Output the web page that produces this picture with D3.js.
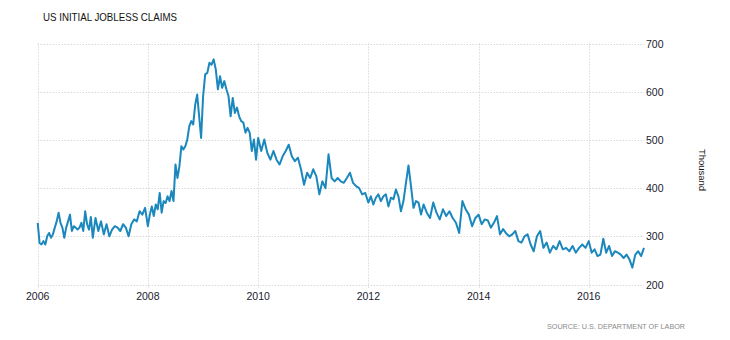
<!DOCTYPE html>
<meta charset="utf-8">
<style>
body { margin: 0; background: #fff; }
text { font-family: "Liberation Sans", Arial, sans-serif; }
.grid line { stroke: #c8c8c8; stroke-dasharray: 1,2; }
</style>
<svg width="730" height="340"></svg>
<script src="https://d3js.org/d3.v7.min.js"></script>
<script>

// weekly claims, thousands (each year's readings spread across that year)
var y2006 = [328,286,283,290,283,300,307,297,304,318,331,349,328,318,297,318,331,345,311,321,318,314,318,328,311,352,325,314,340];
var y2007 = [297,338,311,331,304,325,300,314,321,318,311,325,318,300,325,335,331,352,345,359];
var y2008 = [321,345,362,342,366,356,390,349,373,369,383,373,394,373,449,421,445,487,480,487,501,528,539,532,573,594,549,504];
var y2009 = [590,636,639,660,656,667,646,605,632,608,622,605,591,549,587,556,567,549,539,536,515,525,515,477,501,459];
var y2010 = [504,477,501,473,459,477,459,449,466,477,490,466,456,463,439,407,432,421];
var y2011 = [439,425,387,414,400,470,421,414,421,414,411,421,432,411,404,400,387,390];
var y2012 = [370,383,366,380,387,373,383,387,362,380,377,397,383,352,373,411,447,404,359,373,370,345];
var y2013 = [366,349,338,370,349,335,356,342,352,338,328,307,373,356,345,321,338];
var y2014 = [345,325,335,333,318,328,342,304,315,306,300,304,311,290,287,300,304,283];
var y2015 = [269,300,311,276,287,266,280,273,290,273,276,269,280,266,276,283,276];
var y2016 = [290,266,273,259,262,295,266,280,259,269,266,262,255,262,252,235,262,269,259,276];

var years = [2006,2007,2008,2009,2010,2011,2012,2013,2014,2015,2016];
var yearValues = [y2006,y2007,y2008,y2009,y2010,y2011,y2012,y2013,y2014,y2015,y2016];

var xTicks = [2006,2008,2010,2012,2014,2016];
var yTicks = [200,300,400,500,600,700];

var title = "US INITIAL JOBLESS CLAIMS";
var unit = "Thousand";
var source = "SOURCE:  U.S. DEPARTMENT OF LABOR";

var svg = d3.select("svg");

var plotLeft = 37.7, plotRight = 644, plotTop = 43.5, plotBottom = 284.5;

var x = d3.scaleTime()
    .domain([new Date(2006,0,1), new Date(2017,0,1)])
    .range([plotLeft, plotRight]);
var y = d3.scaleLinear()
    .domain([200,700])
    .range([plotBottom, plotTop]);

// spread each year's readings over the year, last year runs to its end
var data = [];
years.forEach(function(yr, k) {
  var vals = yearValues[k];
  var n = (k == years.length - 1) ? vals.length - 1 : vals.length;
  var t0 = new Date(yr,0,1).getTime(), t1 = new Date(yr+1,0,1).getTime();
  vals.forEach(function(v, i) {
    data.push({date: new Date(t0 + (t1 - t0) * i / n), value: v});
  });
});

// grid
var grid = svg.append("g").attr("class", "grid");
grid.selectAll(".h").data(yTicks).enter().append("line")
    .attr("x1", plotLeft).attr("x2", plotRight)
    .attr("y1", function(d) { return Math.round(y(d)) + 0.5; })
    .attr("y2", function(d) { return Math.round(y(d)) + 0.5; });
grid.selectAll(".v").data(xTicks).enter().append("line")
    .attr("x1", function(d) { return Math.round(x(new Date(d,0,1))) + 0.5; })
    .attr("x2", function(d) { return Math.round(x(new Date(d,0,1))) + 0.5; })
    .attr("y1", plotTop).attr("y2", plotBottom + 3);

// x labels
svg.selectAll(".xl").data(xTicks).enter().append("text")
    .attr("x", function(d) { return x(new Date(d,0,1)); })
    .attr("y", 299.5)
    .attr("text-anchor", "middle")
    .style("font-size", "10.5px")
    .style("fill", "#1a1a2e")
    .text(function(d) { return d; });

// y labels on the right
svg.selectAll(".yl").data(yTicks).enter().append("text")
    .attr("x", 646)
    .attr("y", function(d) { return y(d) + 4; })
    .style("font-size", "10.5px")
    .style("fill", "#1a1a2e")
    .text(function(d) { return d; });

svg.append("text")
    .attr("transform", "translate(699,170) rotate(90)")
    .attr("text-anchor", "middle")
    .style("font-size", "9.5px")
    .style("fill", "#111")
    .text(unit);

// line
var line = d3.line()
    .x(function(d) { return x(d.date); })
    .y(function(d) { return y(d.value); });

svg.append("path")
    .datum(data)
    .attr("d", line)
    .style("fill", "none")
    .style("stroke", "#1a87bd")
    .style("stroke-width", 2)
    .style("stroke-linejoin", "round");

// title and source
svg.append("text")
    .attr("x", 43)
    .attr("y", 21)
    .attr("textLength", 134)
    .attr("lengthAdjust", "spacingAndGlyphs")
    .style("font-size", "11px")
    .style("fill", "#111")
    .text(title);

svg.append("text")
    .attr("x", 547)
    .attr("y", 329)
    .attr("textLength", 138)
    .attr("lengthAdjust", "spacingAndGlyphs")
    .style("font-size", "8px")
    .style("fill", "#8a8a8a")
    .text(source);

</script>
